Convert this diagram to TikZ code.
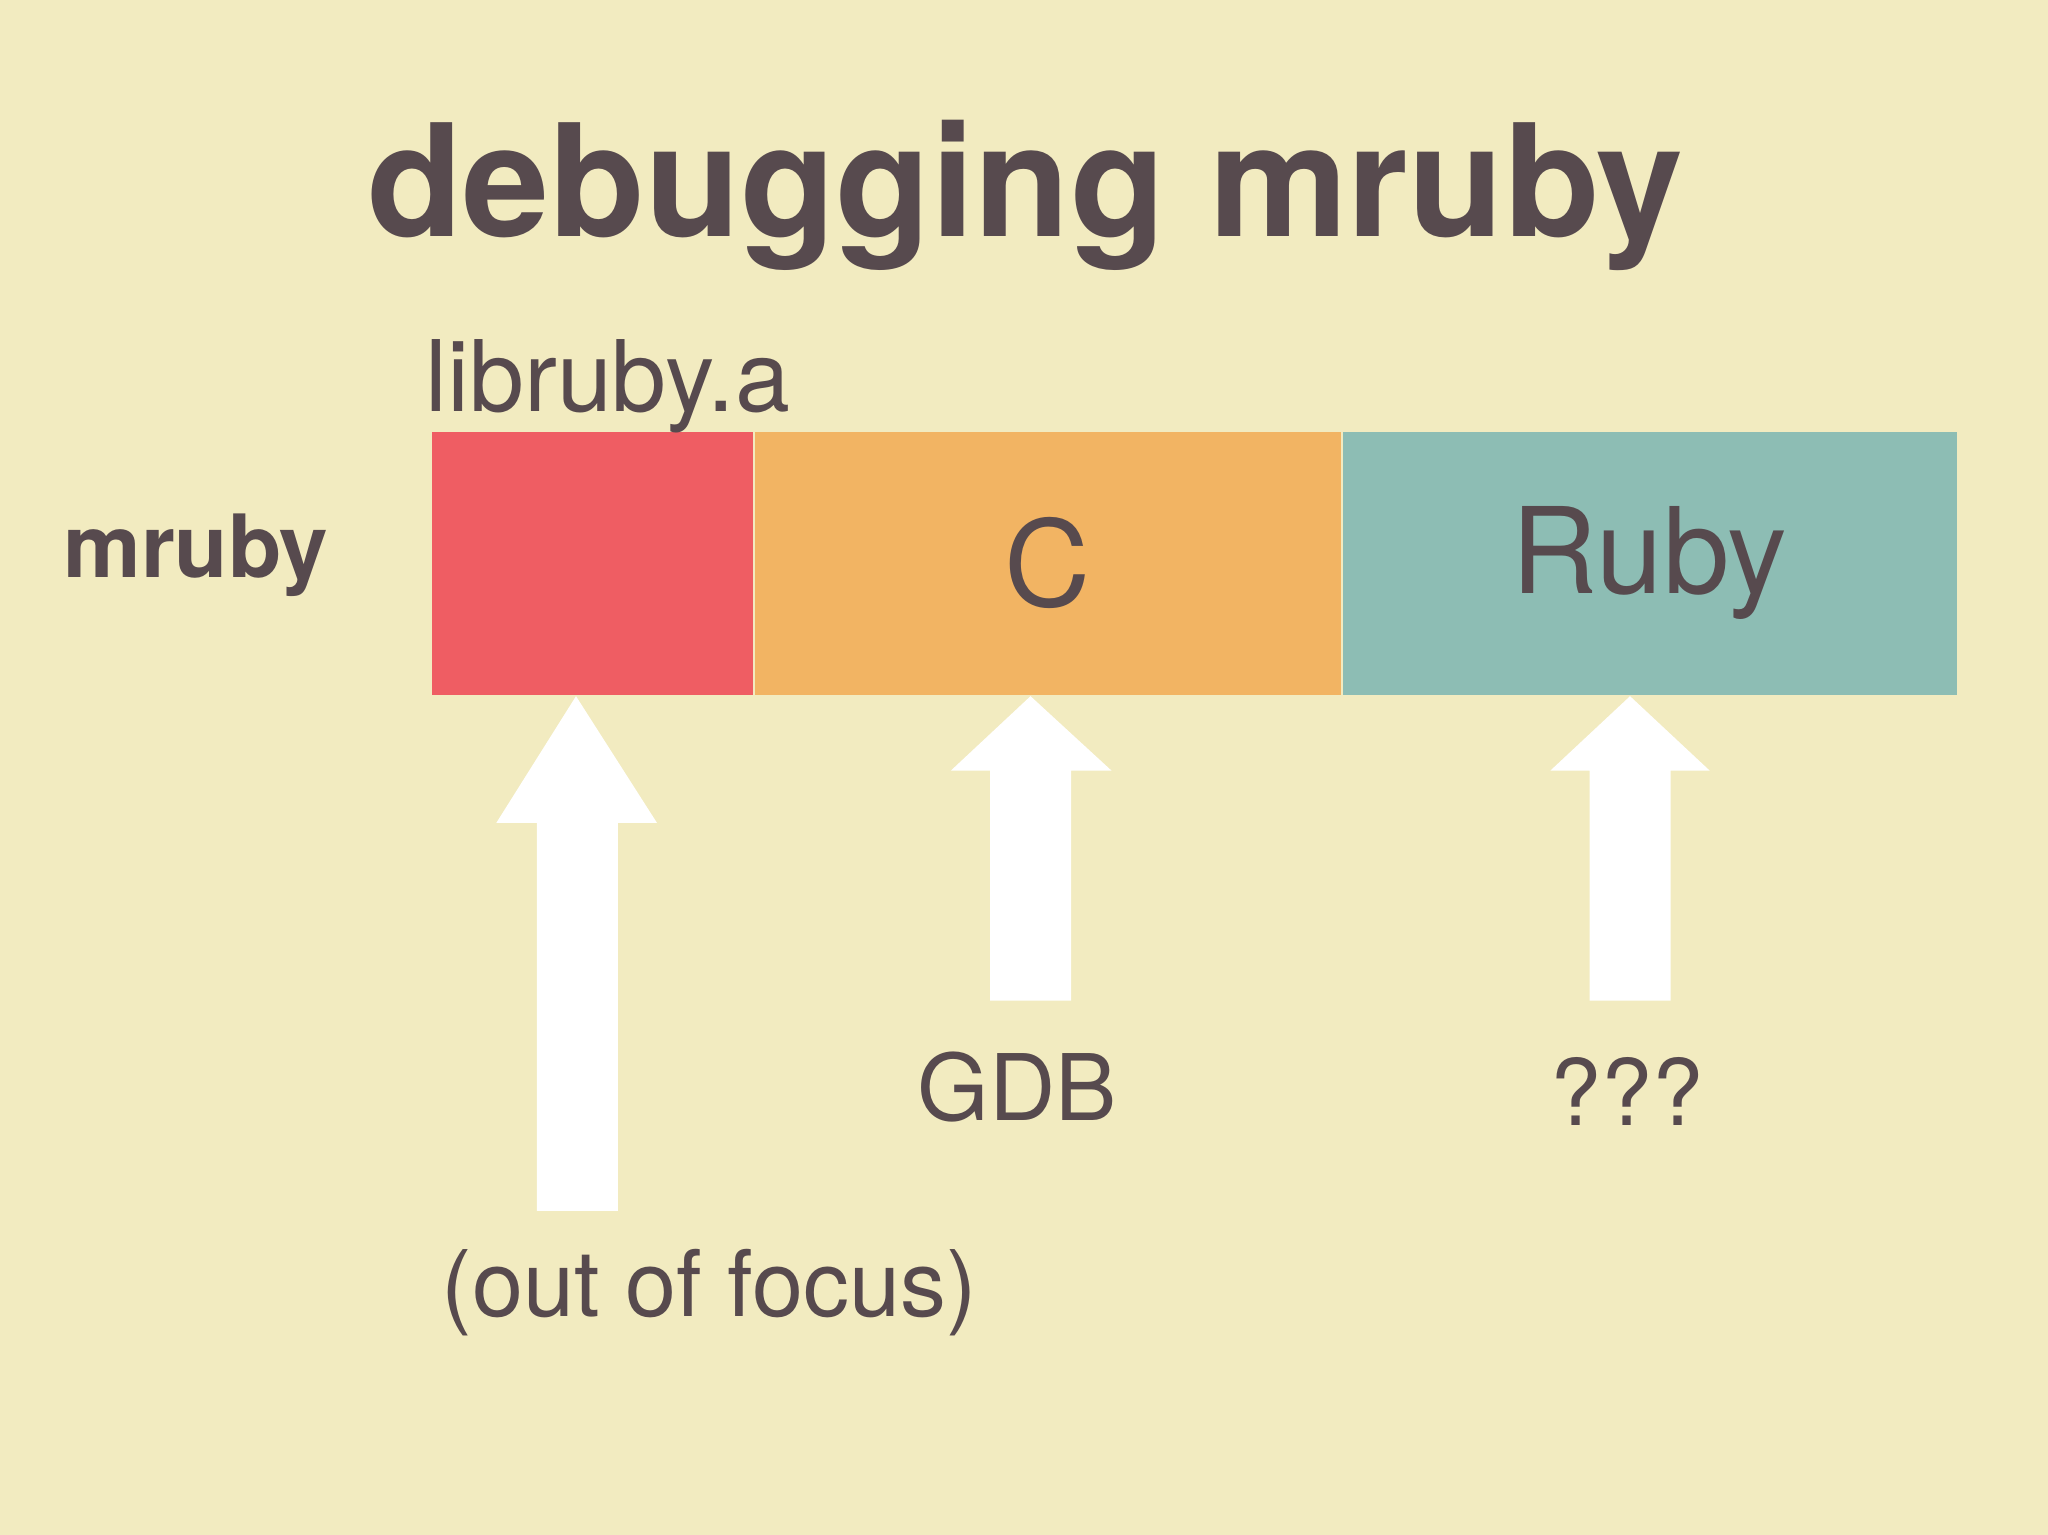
\documentclass[tikz,border=0pt]{standalone}
\usepackage{fontspec}
\setmainfont{TeX Gyre Heros}
\usetikzlibrary{positioning}
\definecolor{bg}{HTML}{F2EBC0}
\definecolor{ink}{HTML}{574A4E}
\definecolor{redpart}{HTML}{EF5D63}
\definecolor{cpart}{HTML}{F2B463}
\definecolor{rubypart}{HTML}{8DBDB4}
\tikzset{part/.style={draw=none,minimum height=2.01cm,inner sep=0pt,text=ink,font=\fontsize{26}{26}\selectfont}}
\tikzset{txt/.style={text=ink,inner sep=0pt,font=\fontsize{20}{20}\selectfont}}
\tikzset{up/.style={fill=white,draw=none}}
\begin{document}
\begin{tikzpicture}[x=0.01cm,y=-0.01cm]
    \fill[bg] (0,0) rectangle (1568,1175);
    \useasboundingbox (0,0) rectangle (1568,1175);
    \node[text=ink,font=\bfseries\fontsize{34}{34}\selectfont] (title) at (785,150) {debugging mruby};
    \node[part,fill=redpart,minimum width=2.46cm,anchor=north west] (lib) at (330,330) {};
    \node[part,fill=cpart,minimum width=4.48cm,right=0pt of lib] (c) {C};
    \node[part,fill=rubypart,minimum width=4.70cm,right=0pt of c] (ruby) {Ruby};
    \node[txt,font=\fontsize{21.5}{21.5}\selectfont,anchor=base west] (libname) at (325,315) {libruby.a};
    \node[txt,font=\bfseries\fontsize{19}{19}\selectfont] (mruby) at (150,425) {mruby};
    \node[txt] (gdb) at (779,832) {GDB};
    \node[txt] (unknown) at (1246,836) {???};
    \node[txt] (focus) at (543,990) {(out of focus)};
    % arrows
    \fill[up] (441,533) -- (503,630) -- (473,630) -- (473,927) -- (411,927) -- (411,630) -- (380,630) -- cycle;
    \fill[up] (789,533) -- (851,590) -- (820,590) -- (820,766) -- (758,766) -- (758,590) -- (728,590) -- cycle;
    \fill[up] (1248,533) -- (1309,590) -- (1279,590) -- (1279,766) -- (1217,766) -- (1217,590) -- (1187,590) -- cycle;
\end{tikzpicture}
\end{document}
